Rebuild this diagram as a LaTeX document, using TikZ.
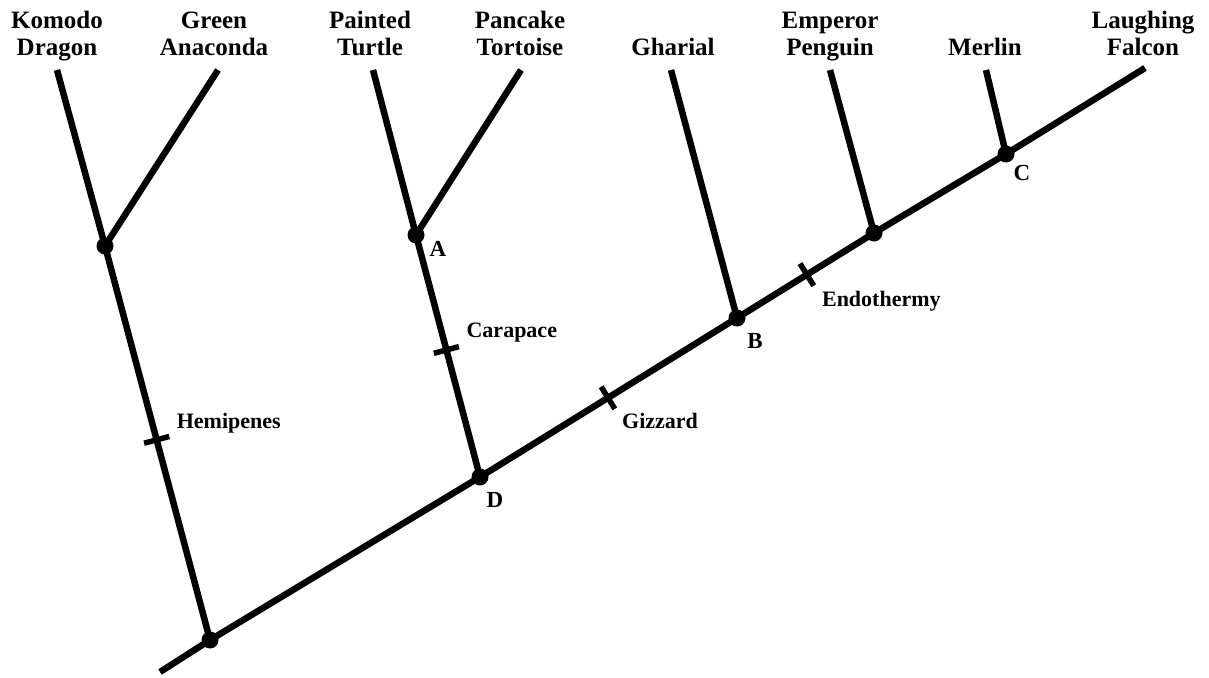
\documentclass[tikz,border=0pt]{standalone}
\usepackage{fontspec}
\setmainfont{Liberation Serif}
\usetikzlibrary{calc,positioning}

\begin{document}
\begin{tikzpicture}[x=1pt,y=-1pt,
  branch/.style={line width=6.5pt,line cap=butt},
  clade/.style={circle,fill=black,inner sep=0pt,minimum size=17pt},
  tick/.style={line width=5.5pt},
  taxon/.style={font=\fontsize{25}{27}\selectfont\bfseries,align=center,anchor=base,inner sep=0pt},
  trait/.style={font=\fontsize{22}{24}\selectfont\bfseries,anchor=west,inner sep=0pt},
  cname/.style={font=\fontsize{23}{24}\selectfont\bfseries,inner sep=0pt}
]
  \useasboundingbox (0,0) rectangle (1209,677);
  % Clade points on the main line
  \coordinate (base) at (160,672);
  \node[clade] (root) at (210,640) {};
  \node[clade] (nD) at (480,477) {};
  \node[clade] (nB) at (737,318) {};
  \node[clade] (nE) at (874,233) {};
  \node[clade] (nC) at (1006,154) {};
  \node[clade] (nK) at (105,246) {};
  \node[clade] (nA) at (416,235) {};
  % Tips
  \coordinate (tKomodo) at (57,70);
  \coordinate (tAnaconda) at (218,70);
  \coordinate (tPainted) at (373,70);
  \coordinate (tPancake) at (521,70);
  \coordinate (tGharial) at (671,70);
  \coordinate (tPenguin) at (830,70);
  \coordinate (tMerlin) at (986,70);
  \coordinate (tFalcon) at (1145,68);
  % Branches
  \draw[branch] (base) -- (root.center) -- (nD.center) -- (nB.center) -- (nE.center) -- (nC.center) -- (tFalcon);
  \draw[branch] (root.center) -- (nK.center) -- (tKomodo);
  \draw[branch] (nK.center) -- (tAnaconda);
  \draw[branch] (nD.center) -- (nA.center) -- (tPainted);
  \draw[branch] (nA.center) -- (tPancake);
  \draw[branch] (nB.center) -- (tGharial);
  \draw[branch] (nE.center) -- (tPenguin);
  \draw[branch] (nC.center) -- (tMerlin);
  % Trait ticks
  \coordinate (kHemi) at ($(root)!0.508!(nK)$);
  \coordinate (kCara) at ($(nD)!0.525!(nA)$);
  \coordinate (kGizz) at ($(nD)!0.498!(nB)$);
  \coordinate (kEndo) at ($(nB)!0.51!(nE)$);
  \draw[tick] ($(kHemi)!13pt!90:(nK)$) -- ($(kHemi)!13pt!-90:(nK)$);
  \draw[tick] ($(kCara)!13pt!90:(nA)$) -- ($(kCara)!13pt!-90:(nA)$);
  \draw[tick] ($(kGizz)!13pt!90:(nB)$) -- ($(kGizz)!13pt!-90:(nB)$);
  \draw[tick] ($(kEndo)!13pt!90:(nE)$) -- ($(kEndo)!13pt!-90:(nE)$);
  \node[trait] (lHemi) at ($(kHemi)+(20,-17)$) {Hemipenes};
  \node[trait] (lCara) at ($(kCara)+(20,-17)$) {Carapace};
  \node[trait] (lGizz) at ($(kGizz)+(14,23)$) {Gizzard};
  \node[trait] (lEndo) at ($(kEndo)+(15,27)$) {Endothermy};
  % Clade letters
  \node[cname] (cA) at ($(nA)+(22,14)$) {A};
  \node[cname] (cB) at ($(nB)+(18,23)$) {B};
  \node[cname] (cC) at ($(nC)+(16,19)$) {C};
  \node[cname] (cD) at ($(nD)+(15,23)$) {D};
  % Taxa
  \node[taxon] (xKomodo) at (57,56) {Komodo\\Dragon};
  \node[taxon] (xAnaconda) at (214,56) {Green\\Anaconda};
  \node[taxon] (xPainted) at (370,56) {Painted\\Turtle};
  \node[taxon] (xPancake) at (520,56) {Pancake\\Tortoise};
  \node[taxon] (xGharial) at (673,56) {Gharial};
  \node[taxon] (xPenguin) at (830,56) {Emperor\\Penguin};
  \node[taxon] (xMerlin) at (985,56) {Merlin};
  \node[taxon] (xFalcon) at (1143,56) {Laughing\\Falcon};
\end{tikzpicture}
\end{document}
